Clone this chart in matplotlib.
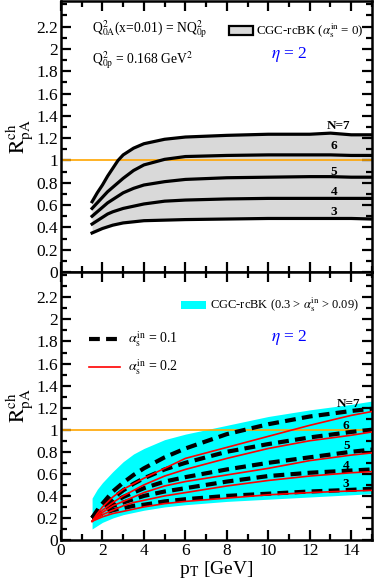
import numpy as np
import matplotlib
matplotlib.use("Agg")
import matplotlib.pyplot as plt
from matplotlib.patches import Rectangle
from matplotlib.lines import Line2D

plt.rcParams['font.family'] = ['Liberation Serif', 'DejaVu Serif']
plt.rcParams['mathtext.fontset'] = 'stix'

# ---- data ----
# top panel: CGC-rcBK, alpha_s^in = 0
pt_top = [1.5, 1.75, 2, 2.25, 2.5, 2.75, 3, 3.5, 4, 5, 6, 8, 10, 12, 13, 14, 15]
top_n7 = [0.63, 0.71, 0.78, 0.86, 0.93, 1.00, 1.05, 1.11, 1.15, 1.19, 1.21, 1.225, 1.235, 1.235, 1.245, 1.23, 1.23]
top_n6 = [0.57, 0.62, 0.67, 0.72, 0.76, 0.80, 0.84, 0.91, 0.96, 1.01, 1.035, 1.045, 1.05, 1.05, 1.05, 1.045, 1.045]
top_n5 = [0.50, 0.54, 0.58, 0.62, 0.65, 0.68, 0.71, 0.75, 0.78, 0.81, 0.83, 0.845, 0.85, 0.855, 0.855, 0.85, 0.85]
top_n4 = [0.43, 0.46, 0.49, 0.52, 0.54, 0.555, 0.57, 0.59, 0.61, 0.635, 0.645, 0.655, 0.66, 0.66, 0.66, 0.66, 0.66]
top_n3 = [0.35, 0.37, 0.39, 0.405, 0.42, 0.43, 0.44, 0.45, 0.46, 0.465, 0.47, 0.475, 0.48, 0.48, 0.48, 0.48, 0.475]

# bottom panel
pt_bot = [1.5, 1.75, 2, 2.5, 3, 3.5, 4, 5, 6, 8, 10, 12, 14, 15]
band_hi = [0.38, 0.46, 0.52, 0.62, 0.71, 0.78, 0.83, 0.91, 0.96, 1.04, 1.12, 1.18, 1.23, 1.26]
band_lo = [0.10, 0.13, 0.16, 0.20, 0.23, 0.25, 0.27, 0.30, 0.32, 0.35, 0.37, 0.39, 0.41, 0.42]

dash_n7 = [0.20, 0.27, 0.33, 0.44, 0.52, 0.59, 0.65, 0.75, 0.83, 0.96, 1.05, 1.12, 1.17, 1.19]
dash_n6 = [0.20, 0.25, 0.30, 0.38, 0.45, 0.51, 0.56, 0.64, 0.70, 0.80, 0.87, 0.93, 0.98, 1.00]
dash_n5 = [0.20, 0.24, 0.28, 0.34, 0.39, 0.43, 0.47, 0.53, 0.57, 0.64, 0.70, 0.75, 0.80, 0.82]
dash_n4 = [0.20, 0.23, 0.26, 0.31, 0.34, 0.37, 0.40, 0.44, 0.47, 0.53, 0.58, 0.61, 0.63, 0.64]
dash_n3 = [0.20, 0.22, 0.24, 0.27, 0.29, 0.31, 0.32, 0.35, 0.37, 0.40, 0.42, 0.44, 0.455, 0.465]

red_n7 = [0.17, 0.24, 0.30, 0.39, 0.46, 0.51, 0.56, 0.65, 0.74, 0.84, 0.94, 1.04, 1.13, 1.165]
red_n6 = [0.17, 0.22, 0.27, 0.34, 0.40, 0.45, 0.50, 0.58, 0.64, 0.74, 0.83, 0.90, 0.95, 0.98]
red_n5 = [0.17, 0.21, 0.25, 0.31, 0.35, 0.39, 0.43, 0.49, 0.53, 0.59, 0.65, 0.72, 0.77, 0.79]
red_n4 = [0.17, 0.20, 0.23, 0.27, 0.31, 0.34, 0.36, 0.40, 0.43, 0.49, 0.54, 0.58, 0.61, 0.62]
red_n3 = [0.17, 0.19, 0.21, 0.24, 0.26, 0.28, 0.30, 0.33, 0.35, 0.38, 0.41, 0.43, 0.445, 0.45]

n_labels = ['3', '4', '5', '6', 'N=7']
top_label_y = [0.54, 0.72, 0.90, 1.13, 1.31]
bot_label_y = [0.51, 0.67, 0.85, 1.03, 1.23]


def style_axis(ax):
    ax.set_xlim(0, 15)
    ax.set_ylim(0, 2.43)
    ax.set_xticks(np.arange(0, 15, 2))
    ax.set_xticks(np.arange(0, 16, 1), minor=True)
    ax.set_yticks(np.arange(0, 2.3, 0.2))
    ax.set_yticks(np.arange(0, 2.45, 0.1), minor=True)
    ax.set_yticklabels(['0', '0.2', '0.4', '0.6', '0.8', '1', '1.2', '1.4',
                        '1.6', '1.8', '2', '2.2'])
    ax.tick_params(which='both', direction='in', top=True, right=True,
                   labelsize=12.5, width=1.6, pad=2)
    ax.tick_params(which='major', length=7)
    ax.tick_params(which='minor', length=4)
    for s in ax.spines.values():
        s.set_linewidth(1.8)
    ax.set_ylabel(r'$\mathrm{R}^{\mathrm{ch}}_{\mathrm{pA}}$', fontsize=15.5)
    ax.yaxis.set_label_coords(-0.085, 0.5)


fig = plt.figure(figsize=(3.76, 5.88), dpi=100)
ax1 = fig.add_axes([0.1622, 0.5374, 0.827, 0.461])
ax2 = fig.add_axes([0.1622, 0.0816, 0.827, 0.4558])

# ---- top panel ----
ax1.fill_between(pt_top, top_n3, top_n7, color='#d9d9d9', zorder=1, lw=0)
ax1.axhline(1.0, color='orange', lw=1.2, zorder=2)
for c in [top_n3, top_n4, top_n5, top_n6, top_n7]:
    ax1.plot(pt_top, c, color='black', lw=2.3, zorder=3)
for lab, yy in zip(n_labels, top_label_y):
    xx = 12.8 if lab == 'N=7' else 13.0
    ax1.text(xx, yy, lab, fontsize=9.5, fontweight='bold', ha='left', va='center')
style_axis(ax1)
ax1.set_xticklabels([])
ax1.text(1.5, 2.18, r'Q$^2_{\rm 0A}$(x=0.01) = NQ$^2_{\rm 0p}$', fontsize=9.8, va='center')
ax1.text(1.5, 1.90, r'Q$^2_{\rm 0p}$ = 0.168 GeV$^2$', fontsize=9.8, va='center')
ax1.text(11.0, 1.95, r'$\eta$ = 2', color='blue', fontsize=12.5, ha='center', va='center')
ax1.add_patch(Rectangle((8.1, 2.125), 1.15, 0.08, facecolor='#d9d9d9',
                        edgecolor='black', lw=1.6, zorder=4))
ax1.text(9.4, 2.165, r'CGC-rcBK ($\alpha_{\rm s}^{\rm in}$ = 0)', fontsize=9.3, va='center')

# ---- bottom panel ----
ax2.fill_between(pt_bot, band_lo, band_hi, color='#00ffff', zorder=1, lw=0)
ax2.axhline(1.0, color='orange', lw=1.2, zorder=2)
for c in [dash_n3, dash_n4, dash_n5, dash_n6, dash_n7]:
    ax2.plot(pt_bot, c, color='black', lw=3.0, dashes=(2.6, 1.5), zorder=3)
for c in [red_n3, red_n4, red_n5, red_n6, red_n7]:
    ax2.plot(pt_bot, c, color='red', lw=1.2, zorder=4)
for lab, yy in zip(n_labels, bot_label_y):
    xx = 13.3 if lab == 'N=7' else 13.6
    ax2.text(xx, yy, lab, fontsize=9.5, fontweight='bold', ha='left', va='center')
style_axis(ax2)
ax2.set_xticklabels(['0', '2', '4', '6', '8', '10', '12', '14'])
ax2.set_xlabel(r'p$_{\rm T}$ [GeV]', fontsize=14, labelpad=0)
ax2.add_patch(Rectangle((5.8, 2.095), 1.2, 0.075, facecolor='#00ffff',
                        edgecolor='none', zorder=4))
ax2.text(7.2, 2.13, r'CGC-rcBK (0.3 > $\alpha_{\rm s}^{\rm in}$ > 0.09)', fontsize=9.0, va='center')
ax2.add_line(Line2D([1.35, 2.85], [1.82, 1.82], color='black', lw=3.0, dashes=(2.6, 1.5)))
ax2.add_line(Line2D([1.35, 2.85], [1.57, 1.57], color='red', lw=1.2))
ax2.text(3.25, 1.82, r'$\alpha_{\rm s}^{\rm in}$ = 0.1', fontsize=10, va='center')
ax2.text(3.25, 1.57, r'$\alpha_{\rm s}^{\rm in}$ = 0.2', fontsize=10, va='center')
ax2.text(11.0, 1.84, r'$\eta$ = 2', color='blue', fontsize=12.5, ha='center', va='center')

fig.savefig('out.png', dpi=100)
